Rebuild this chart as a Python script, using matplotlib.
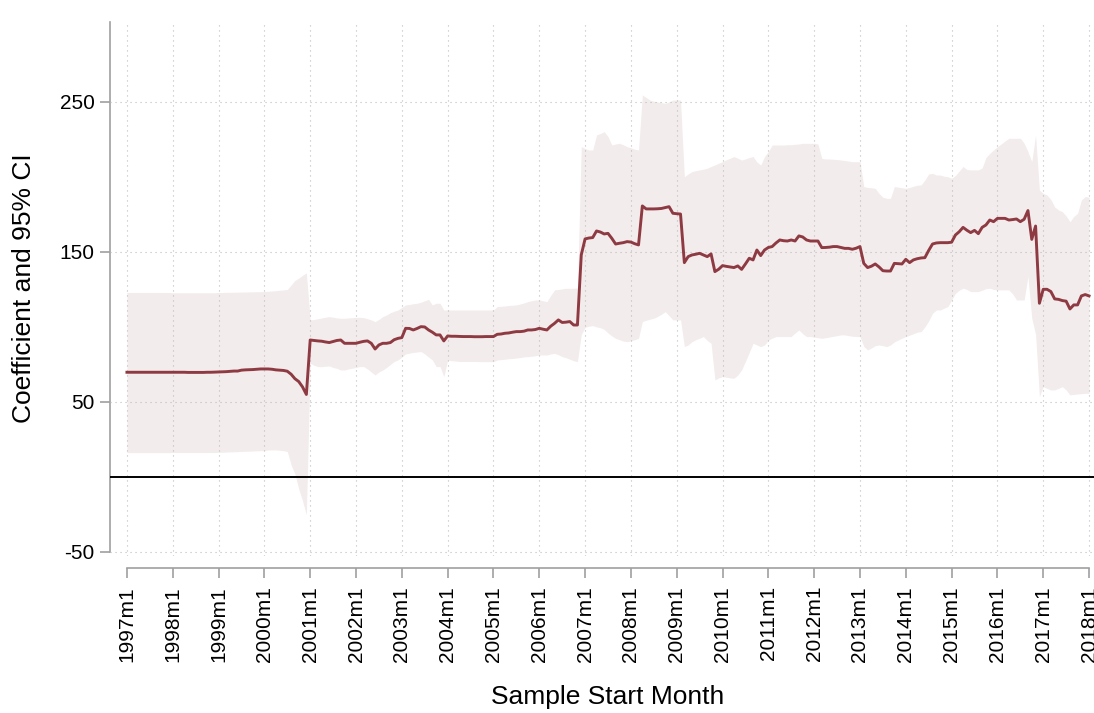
import numpy as np
import matplotlib
matplotlib.use("Agg")
import matplotlib.pyplot as plt

# monthly estimates, 1997m1 .. 2018m1 (one row per year)
coef = [
    69.8, 69.8, 69.8, 69.8, 69.8, 69.8, 69.8, 69.8, 69.8, 69.8, 69.8, 69.8,
    69.8, 69.8, 69.8, 69.8, 69.7, 69.7, 69.7, 69.7, 69.7, 69.8, 69.8, 69.9,
    70.0, 70.1, 70.2, 70.4, 70.6, 70.6, 71.2, 71.4, 71.5, 71.6, 71.8, 72.0,
    72.0, 72.0, 71.8, 71.4, 71.2, 71.0, 70.5, 68.5, 65.5, 63.6, 60.0, 55.0,
    91.3, 91.0, 90.7, 90.5, 90.0, 89.6, 90.3, 91.0, 91.3, 89.1, 89.1, 89.1,
    89.1, 89.8, 90.4, 90.7, 89.1, 85.3, 88.0, 89.1, 89.1, 89.6, 91.5, 92.4,
    92.9, 99.1, 99.0, 98.0, 99.0, 100.2, 100.0, 98.0, 96.5, 94.7, 94.7, 90.7,
    94.0, 93.8, 93.8, 93.7, 93.6, 93.6, 93.6, 93.5, 93.5, 93.5, 93.6, 93.6,
    93.6, 95.1, 95.3, 95.8, 96.0, 96.5, 96.9, 96.9, 97.2, 98.0, 98.0, 98.3,
    99.1, 98.5, 98.0, 100.5, 102.4, 104.7, 103.0, 103.2, 103.6, 101.3, 101.3, 148.0,
    158.7, 159.3, 159.6, 164.0, 163.3, 162.0, 162.4, 159.1, 155.3, 155.8, 156.2, 156.9,
    156.6, 155.5, 154.7, 180.7, 178.7, 178.7, 178.7, 178.8, 179.0, 179.6, 180.2, 175.8,
    175.5, 175.3, 142.9, 146.9, 148.0, 148.5, 149.1, 148.0, 146.9, 148.7, 136.9, 138.5,
    140.9, 140.4, 140.0, 139.6, 140.7, 138.4, 142.0, 145.8, 144.7, 151.3, 147.6, 151.3,
    153.0, 153.6, 156.0, 158.0, 157.5, 157.3, 158.0, 157.3, 160.7, 160.0, 158.0, 157.3,
    157.3, 157.3, 152.9, 153.0, 153.2, 153.6, 153.6, 153.0, 152.4, 152.4, 151.8, 152.5,
    153.6, 142.4, 139.6, 140.5, 142.0, 140.0, 137.5, 137.3, 137.3, 142.4, 142.2, 142.0,
    145.1, 142.9, 144.7, 145.5, 146.0, 146.2, 151.0, 155.3, 156.0, 156.2, 156.2, 156.2,
    156.5, 161.3, 163.5, 166.4, 164.5, 162.9, 164.4, 162.2, 166.4, 168.0, 171.3, 170.2,
    172.4, 172.4, 172.4, 171.3, 171.6, 172.0, 170.2, 171.8, 177.6, 158.4, 167.3, 115.8,
    125.1, 125.1, 123.6, 118.7, 118.4, 117.6, 117.2, 112.0, 114.7, 114.7, 120.7, 121.6,
    120.7,
]

ci_upper = [
    123.0, 123.0, 123.0, 123.0, 123.0, 123.0, 123.0, 123.0, 123.0, 123.0, 123.0, 123.0,
    122.8, 122.8, 122.8, 122.8, 122.8, 122.8, 122.8, 122.8, 122.8, 122.8, 122.8, 122.8,
    123.0, 123.0, 123.1, 123.1, 123.2, 123.2, 123.3, 123.3, 123.4, 123.4, 123.5, 123.5,
    123.6, 123.8, 124.0, 124.2, 124.5, 124.7, 125.0, 128.0, 131.0, 132.6, 134.5, 136.0,
    104.7, 105.0, 105.5, 106.0, 106.5, 106.9, 106.5, 106.0, 105.8, 105.8, 106.0, 106.2,
    106.4, 106.4, 106.2, 105.5, 104.7, 103.6, 105.0, 106.9, 108.0, 109.5, 110.5, 111.3,
    113.0, 114.7, 115.0, 115.5, 115.8, 116.5, 117.5, 118.4, 114.7, 115.8, 115.8, 111.3,
    111.3, 111.3, 111.3, 111.3, 111.3, 111.3, 111.3, 111.3, 111.3, 111.3, 111.3, 111.3,
    111.3, 113.6, 113.8, 114.0, 114.3, 114.5, 114.7, 115.3, 116.0, 116.9, 117.5, 118.0,
    118.0, 117.5, 116.9, 121.0, 124.7, 125.0, 125.4, 125.8, 125.8, 125.8, 126.0, 220.2,
    219.0, 218.0, 218.0, 228.0, 229.0, 230.2, 227.0, 221.3, 222.0, 222.4, 221.5, 220.2,
    219.5, 218.5, 218.0, 254.7, 253.0, 251.3, 250.5, 250.0, 249.5, 249.1, 250.0, 251.3,
    251.3, 251.3, 200.2, 202.0, 203.6, 204.2, 204.7, 205.2, 205.8, 207.0, 208.0, 209.2,
    210.2, 211.5, 212.5, 213.6, 212.5, 211.3, 212.0, 213.0, 213.6, 210.0, 208.0, 213.6,
    217.0, 221.3, 221.3, 221.3, 221.3, 221.5, 221.5, 221.8, 222.0, 222.4, 222.4, 222.4,
    222.4, 222.0, 212.4, 212.0, 212.0, 211.8, 211.6, 211.3, 211.0, 210.6, 210.2, 210.2,
    210.2, 193.6, 193.0, 192.8, 192.4, 189.0, 186.5, 185.8, 185.8, 193.6, 193.2, 192.8,
    192.4, 193.0, 193.8, 194.5, 194.7, 198.0, 202.0, 202.4, 201.3, 201.3, 200.5, 200.2,
    199.1, 201.0, 204.0, 206.9, 205.0, 204.7, 204.7, 204.7, 206.0, 213.0, 215.8, 218.0,
    220.2, 222.0, 224.0, 225.8, 225.8, 225.8, 225.8, 222.5, 216.9, 210.2, 228.0, 191.3,
    189.0, 188.0, 185.0, 180.0, 178.0, 176.9, 174.0, 170.2, 173.6, 175.8, 184.7, 186.9,
    186.5,
]

ci_lower = [
    16.2, 16.2, 16.2, 16.2, 16.2, 16.2, 16.2, 16.2, 16.2, 16.2, 16.2, 16.2,
    16.3, 16.3, 16.3, 16.3, 16.3, 16.3, 16.3, 16.3, 16.3, 16.3, 16.3, 16.3,
    16.4, 16.5, 16.6, 16.7, 16.8, 16.9, 17.0, 17.1, 17.2, 17.3, 17.4, 17.5,
    17.6, 18.0, 18.0, 18.0, 17.8, 17.5, 17.0, 8.0, 2.0, -8.0, -16.0, -25.3,
    75.8, 74.5, 73.6, 73.5, 73.8, 74.0, 73.0, 72.4, 71.3, 71.3, 72.0, 72.5,
    73.0, 73.6, 73.6, 72.0, 70.0, 68.0, 70.0, 71.3, 73.0, 75.0, 77.0, 78.0,
    80.0, 82.0, 82.5, 83.0, 83.3, 83.6, 82.0, 80.0, 78.0, 73.6, 73.6, 66.9,
    78.0, 77.5, 77.3, 77.0, 77.0, 77.0, 77.0, 77.0, 76.9, 76.9, 76.9, 76.9,
    76.9, 78.0, 78.2, 78.5, 78.8, 79.0, 79.3, 79.6, 80.0, 80.2, 80.5, 80.8,
    81.3, 81.3, 81.3, 82.0, 82.4, 81.5, 80.2, 79.5, 78.5, 77.5, 76.9, 95.0,
    99.8, 100.5, 100.9, 100.0, 99.5, 98.4, 96.0, 94.0, 92.4, 91.5, 90.6, 90.2,
    90.8, 91.5, 92.4, 103.6, 104.5, 105.2, 105.8, 107.0, 108.5, 110.2, 107.5, 104.7,
    104.7, 104.7, 86.9, 88.0, 90.2, 91.5, 92.5, 93.6, 91.0, 89.1, 64.7, 66.0,
    66.9, 66.5, 66.0, 65.8, 68.0, 71.3, 77.0, 83.0, 89.1, 88.0, 86.9, 88.0,
    91.3, 92.5, 93.6, 93.6, 93.6, 93.6, 93.6, 96.0, 98.0, 95.5, 93.6, 93.6,
    93.2, 92.8, 92.4, 92.8, 93.3, 93.8, 94.2, 94.7, 94.7, 94.2, 93.8, 93.6,
    93.6, 87.0, 84.7, 86.0, 87.5, 88.0, 87.5, 86.9, 88.0, 90.0, 91.3, 92.5,
    93.6, 94.5, 95.5, 96.5, 96.9, 100.0, 104.0, 109.1, 111.3, 111.3, 112.5, 113.6,
    118.0, 122.4, 124.5, 125.8, 125.0, 123.6, 123.6, 123.6, 124.5, 125.5, 125.8, 125.0,
    124.7, 124.7, 124.7, 124.7, 122.0, 118.0, 118.0, 118.0, 133.6, 105.8, 95.0, 53.6,
    60.2, 59.0, 58.0, 58.0, 59.0, 60.2, 58.0, 54.7, 55.0, 55.3, 55.5, 55.8,
    55.8,
]

years = list(range(1997, 2019))
tick_labels = [f"{y}m1" for y in years]
y_ticks = [-50, 50, 150, 250]

month = np.arange(len(coef))
year_pos = [(y - 1997) * 12 for y in years]

plt.rcParams["font.family"] = ["Liberation Sans", "DejaVu Sans"]
plt.rcParams["axes.unicode_minus"] = False

fig = plt.figure(figsize=(10.94, 7.13), dpi=100)
ax = fig.add_axes([0.1005, 0.2202, 0.8995, 0.7489])

ax.fill_between(month, ci_lower, ci_upper, color="#f3ecec", linewidth=0, zorder=1)
ax.plot(month, coef, color="#8e3a42", linewidth=2.1, zorder=4)
ax.axhline(0, color="black", linewidth=1.4, zorder=3)

ax.set_xlim(-4.45, 253.3)
ax.set_ylim(-52.7, 303.3)
ax.set_xticks(year_pos)
ax.set_xticklabels(tick_labels)
ax.set_yticks(y_ticks)

ax.set_axisbelow(False)
ax.grid(True, color="#bcbcbc", linestyle=(0, (1, 3.5)), linewidth=0.8)

for side in ["top", "right"]:
    ax.spines[side].set_visible(False)
ax.spines["left"].set_color("#a0a0a0")
ax.spines["left"].set_linewidth(1.2)
ax.spines["left"].set_bounds(-50, 303.3)
ax.spines["bottom"].set_color("#a0a0a0")
ax.spines["bottom"].set_linewidth(1.2)
ax.spines["bottom"].set_position(("outward", 8.6))
ax.spines["bottom"].set_bounds(0, 252)

ax.tick_params(axis="both", colors="#a0a0a0", labelcolor="black",
               labelsize=15, length=7, width=1.2)
ax.tick_params(axis="x", pad=6, labelrotation=90)
ax.tick_params(axis="y", pad=4)

fig.text(24 / 1094, 1 - 288 / 713, "Coefficient and 95% CI", rotation=90,
         ha="center", va="center", fontsize=19)
fig.text(608 / 1094, 1 - 697 / 713, "Sample Start Month",
         ha="center", va="center", fontsize=19)

fig.savefig("out.png", dpi=100)
plt.close(fig)
